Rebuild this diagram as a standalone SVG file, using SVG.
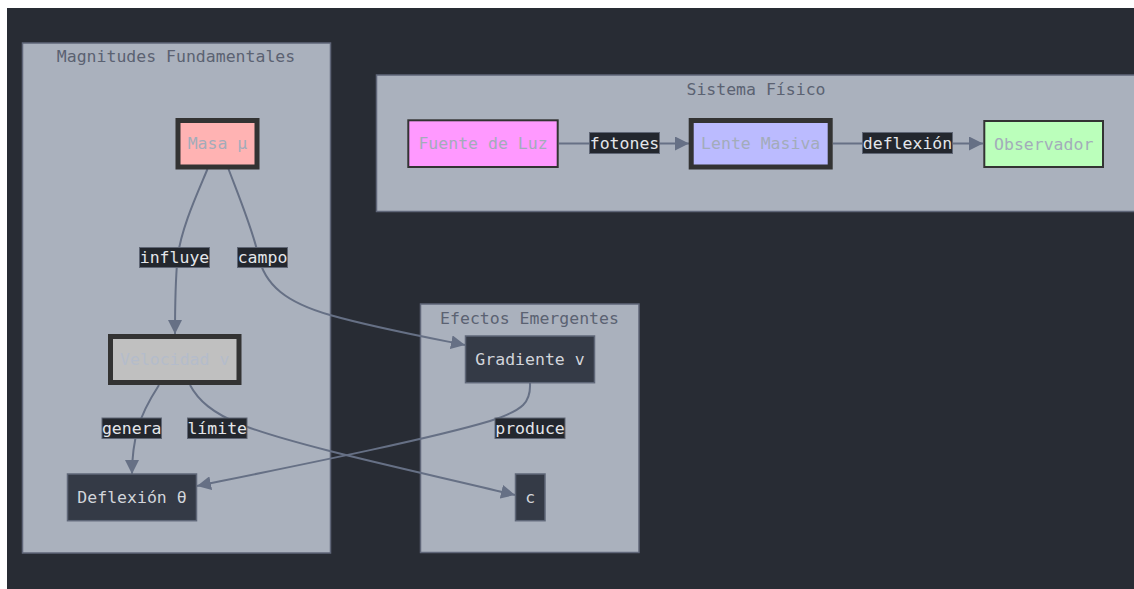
<svg xmlns="http://www.w3.org/2000/svg" width="1134" height="589" viewBox="0 0 1134 589">
  <style>
    text { font-family: "DejaVu Sans Mono", "Liberation Mono", monospace; font-size: 16.5px; }
    .cluster rect { fill: #aab1bd; stroke: #5f6678; stroke-width: 1.5; }
    .cluster text { fill: #5b6272; text-anchor: middle; }
    .node text { text-anchor: middle; dominant-baseline: central; }
    .light text { fill: #a3acba; }
    .dark rect { fill: #343a46; stroke: #5f6778; stroke-width: 1.5; }
    .dark text { fill: #d2d5db; }
    .edge { fill: none; stroke: #667085; stroke-width: 2; marker-end: url(#arrow); }
    .elabel rect { fill: #23272e; stroke: #5f6675; stroke-width: 1; }
    .elabel text { fill: #e4e6ea; text-anchor: middle; dominant-baseline: central; }
  </style>
  <defs>
    <marker id="arrow" viewBox="0 0 14 14" refX="14" refY="7" markerWidth="14" markerHeight="14" markerUnits="userSpaceOnUse" orient="auto">
      <path d="M0,0 L14,7 L0,14 Z" fill="#667085"/>
    </marker>
  </defs>

  <!-- canvas -->
  <rect x="0" y="0" width="1134" height="589" fill="#ffffff"/>
  <rect x="7" y="8" width="1127" height="581" fill="#282c34"/>

  <!-- subgraphs -->
  <g id="cluster-magnitudes" class="cluster">
    <rect x="22.5" y="43" width="308" height="510"/>
    <text x="176" y="62">Magnitudes Fundamentales</text>
  </g>
  <g id="cluster-sistema" class="cluster">
    <rect x="376.5" y="75" width="800" height="136.5"/>
    <text x="756" y="95">Sistema Físico</text>
  </g>
  <g id="cluster-efectos" class="cluster">
    <rect x="420.5" y="304" width="218.5" height="248.5"/>
    <text x="529.5" y="324">Efectos Emergentes</text>
  </g>

  <!-- connectors -->
  <g id="connectors">
    <path class="edge" d="M207.5,169 C198,192 181,228 177.5,258 C175.5,280 175,305 175,334"/>
    <path class="edge" d="M228.5,169 C238,194 252,228 258,254 C264,286 288,303 330,315 C372,327 420,336 465,345"/>
    <path class="edge" d="M159,385 C150,399 142,413 138,428 C134,442 132,455 132,474"/>
    <path class="edge" d="M190,385 C198,400 212,413 242,425 C300,447 420,472 515,495"/>
    <path class="edge" d="M530,383 C531,402 524,410 490,421 C430,439 300,465 197,486"/>
    <path class="edge" d="M559,143.5 L689,143.5"/>
    <path class="edge" d="M833,143.5 L983,143.5"/>

    <g class="elabel">
      <rect x="139.5" y="247.5" width="70" height="20"/>
      <text x="174.5" y="257.5">influye</text>
      <rect x="237.5" y="247.5" width="50" height="20"/>
      <text x="262.5" y="257.5">campo</text>
      <rect x="102" y="418" width="59.5" height="20.5"/>
      <text x="131.7" y="428.2">genera</text>
      <rect x="187.5" y="418" width="59.5" height="20.5"/>
      <text x="217.2" y="428.2">límite</text>
      <rect x="495" y="418" width="70" height="20.5"/>
      <text x="530" y="428.2">produce</text>
      <rect x="589.5" y="132.5" width="70" height="21"/>
      <text x="624.5" y="143">fotones</text>
      <rect x="862.5" y="132.5" width="90" height="21"/>
      <text x="907.5" y="143">deflexión</text>
    </g>
  </g>

  <!-- nodes -->
  <g id="node-masa" class="node light">
    <rect x="178" y="120.5" width="79" height="46.5" fill="#ffb3b3" stroke="#333333" stroke-width="5"/>
    <text x="217.5" y="143.5">Masa µ</text>
  </g>
  <g id="node-velocidad" class="node light">
    <rect x="110.5" y="336.5" width="128.5" height="46" fill="#c0c0c0" stroke="#333333" stroke-width="5"/>
    <text x="174.7" y="359.5" fill="#b4bccb" style="fill:#b4bccb">Velocidad v</text>
  </g>
  <g id="node-fuente" class="node light">
    <rect x="408.3" y="120.3" width="149.4" height="46.7" fill="#ff99ff" stroke="#333333" stroke-width="2"/>
    <text x="483" y="143.7">Fuente de Luz</text>
  </g>
  <g id="node-lente" class="node light">
    <rect x="691.2" y="120.5" width="139" height="46.5" fill="#bbbbff" stroke="#333333" stroke-width="5"/>
    <text x="760.7" y="143.7">Lente Masiva</text>
  </g>
  <g id="node-observador" class="node light">
    <rect x="984.3" y="121" width="118.7" height="46" fill="#bbffbb" stroke="#333333" stroke-width="2"/>
    <text x="1043.7" y="144">Observador</text>
  </g>
  <g id="node-gradiente" class="node dark">
    <rect x="465.5" y="336" width="129" height="46.7"/>
    <text x="530" y="359.3">Gradiente v</text>
  </g>
  <g id="node-c" class="node dark">
    <rect x="515.5" y="474" width="29.5" height="46.7"/>
    <text x="530.2" y="497.3">c</text>
  </g>
  <g id="node-deflexion" class="node dark">
    <rect x="67.5" y="474" width="129" height="46.7"/>
    <text x="132" y="497.3">Deflexión θ</text>
  </g>
</svg>
